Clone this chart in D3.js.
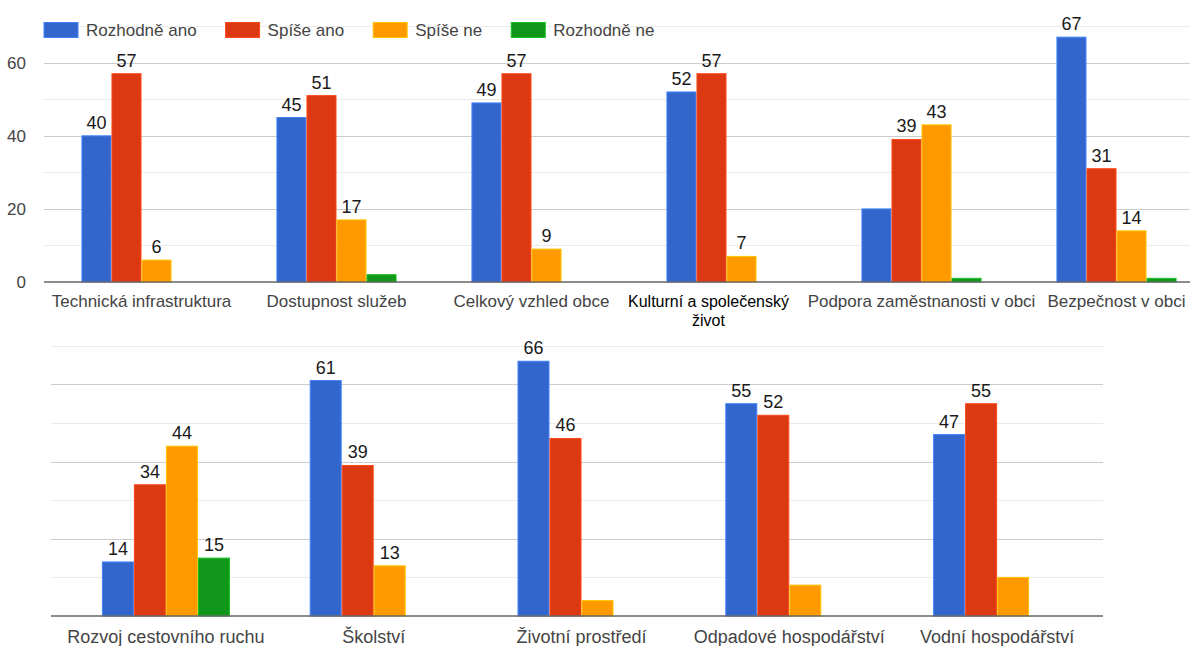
<!DOCTYPE html>
<html>
<head>
<meta charset="utf-8">
<script src="https://cdn.jsdelivr.net/npm/d3@7"></script>
<style>
  body { margin: 0; background: #fff; }
  svg { display: block; font-family: "Liberation Sans", Arial, sans-serif; }
</style>
</head>
<body>
<svg id="chart" width="1190" height="646"></svg>
<script>
// series
const seriesNames = ["Rozhodně ano", "Spíše ano", "Spíše ne", "Rozhodně ne"];
const seriesColors = ["#3366cc", "#dc3912", "#ff9900", "#109618"];

// upper panel
const topCategories = ["Technická infrastruktura", "Dostupnost služeb", "Celkový vzhled obce",
  "Kulturní a společenský\nživot", "Podpora zaměstnanosti v obci", "Bezpečnost v obci"];
const topRozhodneAno = [40, 45, 49, 52, 20, 67];
const topSpiseAno = [57, 51, 57, 57, 39, 31];
const topSpiseNe = [6, 17, 9, 7, 43, 14];
const topRozhodneNe = [0, 2, 0, 0, 1, 1];

// lower panel
const bottomCategories = ["Rozvoj cestovního ruchu", "Školství", "Životní prostředí",
  "Odpadové hospodářství", "Vodní hospodářství"];
const bottomRozhodneAno = [14, 61, 66, 55, 47];
const bottomSpiseAno = [34, 39, 46, 52, 55];
const bottomSpiseNe = [44, 13, 4, 8, 10];
const bottomRozhodneNe = [15, 0, 0, 0, 0];

const yTickLabels = [0, 20, 40, 60];
const gridValues = [10, 20, 30, 40, 50, 60, 70];

// labels that the original chart does not show: [category index, series index]
const topHidden = [[4, 0], [1, 3], [4, 3], [5, 3]];
const bottomHidden = [[2, 2], [3, 2], [4, 2]];

const svg = d3.select("#chart");

function panel(opts) {
  const { categories, series, hidden, xRange, yRange, lineX, axisFont, showY, labelBase } = opts;

  const x = d3.scaleBand().domain(d3.range(categories.length))
    .range(xRange).paddingInner(0.384).paddingOuter(0.192);
  const inner = d3.scaleBand().domain(d3.range(series.length)).range([0, x.bandwidth()]);
  const y = d3.scaleLinear().domain([0, 70]).range(yRange);

  const g = svg.append("g");

  // gridlines
  g.selectAll("line.grid").data(gridValues).enter().append("line")
    .attr("x1", lineX[0]).attr("x2", lineX[1])
    .attr("y1", d => Math.round(y(d)) + 0.5).attr("y2", d => Math.round(y(d)) + 0.5)
    .attr("stroke", d => d % 20 === 0 ? "#cccccc" : "#ebebeb")
    .attr("stroke-width", 1.2);

  if (showY) {
    g.selectAll("text.ytick").data(yTickLabels).enter().append("text")
      .attr("x", 26).attr("y", d => y(d))
      .attr("dy", "0.35em")
      .attr("text-anchor", "end")
      .attr("fill", "#444").attr("font-size", 17)
      .text(d => d);
  }

  const groups = g.selectAll("g.cat").data(categories).enter().append("g")
    .attr("transform", (d, i) => "translate(" + x(i) + ",0)");

  groups.selectAll("rect")
    .data((d, i) => series.map((s, j) => ({ cat: i, s: j, v: s[i] })).filter(e => e.v > 0))
    .enter().append("rect")
    .attr("x", d => inner(d.s) + 0.5)
    .attr("width", inner.bandwidth() - 1)
    .attr("y", d => y(d.v))
    .attr("height", d => y(0) - y(d.v))
    .attr("fill", d => seriesColors[d.s])
    .attr("stroke", d => d3.color(seriesColors[d.s]).brighter(0.7))
    .attr("stroke-width", 1);

  // value labels
  const isHidden = d => hidden.some(h => h[0] === d.cat && h[1] === d.s);
  groups.selectAll("text.val")
    .data((d, i) => series.map((s, j) => ({ cat: i, s: j, v: s[i] })).filter(e => e.v > 0 && !isHidden(e)))
    .enter().append("text")
    .attr("x", d => inner(d.s) + inner.bandwidth() / 2)
    .attr("y", d => y(d.v) - 7)
    .attr("text-anchor", "middle")
    .attr("fill", "#1a1a1a").attr("font-size", 18)
    .text(d => d.v);

  // axis line
  g.append("line")
    .attr("x1", lineX[0]).attr("x2", lineX[1])
    .attr("y1", y(0)).attr("y2", y(0))
    .attr("stroke", "#666").attr("stroke-width", 1.5);

  // category labels
  categories.forEach((c, i) => {
    const lines = c.split("\n");
    const wrapped = lines.length > 1;
    const t = g.append("text")
      .attr("x", x(i) + x.bandwidth() / 2 + (wrapped ? -18 : 0))
      .attr("y", labelBase)
      .attr("text-anchor", "middle")
      .attr("fill", wrapped ? "#000" : "#444")
      .attr("font-size", wrapped ? 16 : axisFont);
    lines.forEach((l, k) => {
      t.append("tspan").attr("x", t.attr("x")).attr("dy", k === 0 ? 0 : 19).text(l);
    });
  });
}

panel({
  categories: topCategories,
  series: [topRozhodneAno, topSpiseAno, topSpiseNe, topRozhodneNe],
  hidden: topHidden,
  xRange: [44, 1214],
  yRange: [282, 26.2],
  lineX: [44, 1190],
  axisFont: 17,
  showY: true,
  labelBase: 307
});

panel({
  categories: bottomCategories,
  series: [bottomRozhodneAno, bottomSpiseAno, bottomSpiseNe, bottomRozhodneNe],
  hidden: bottomHidden,
  xRange: [62, 1101],
  yRange: [616, 345.8],
  lineX: [51, 1103],
  axisFont: 18,
  showY: false,
  labelBase: 643
});

// legend
const legend = svg.append("g").attr("transform", "translate(44,30)");
let lx = 0;
seriesNames.forEach((name, i) => {
  legend.append("rect")
    .attr("x", lx).attr("y", -7.5).attr("width", 34).attr("height", 15)
    .attr("fill", seriesColors[i])
    .attr("stroke", d3.color(seriesColors[i]).brighter(0.7)).attr("stroke-width", 1);
  const t = legend.append("text")
    .attr("x", lx + 42).attr("y", 0).attr("dy", "0.35em")
    .attr("fill", "#444").attr("font-size", 17)
    .text(name);
  lx += 42 + t.node().getComputedTextLength() + 29;
});
</script>
</body>
</html>
